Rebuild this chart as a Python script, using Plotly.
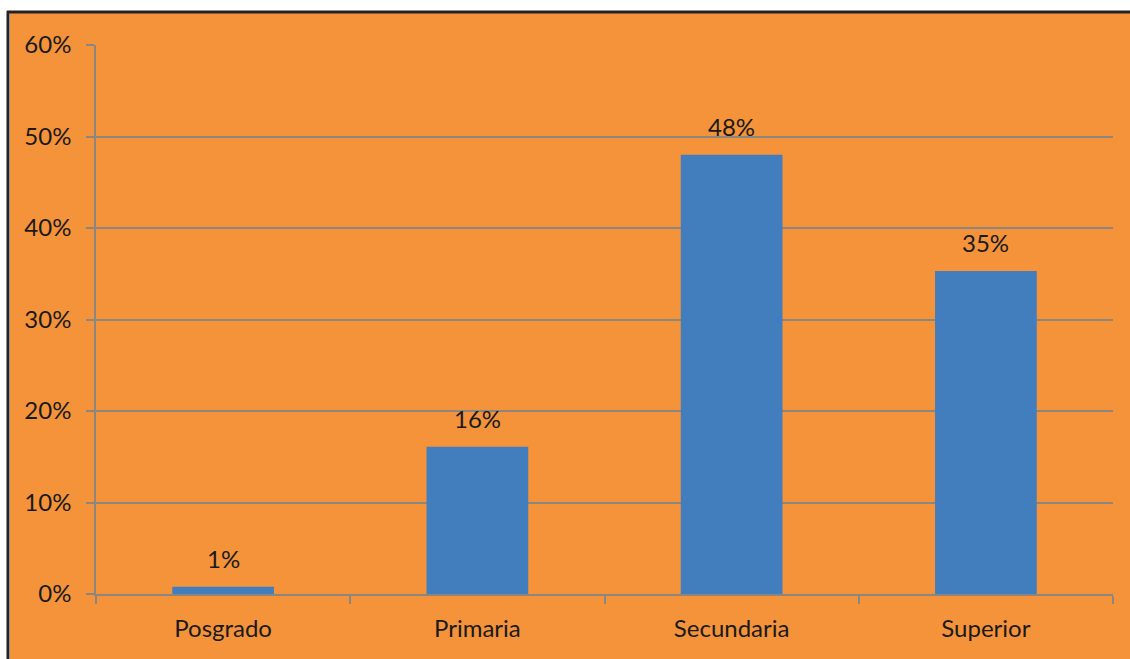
import plotly.graph_objects as go

categories = ["Posgrado", "Primaria", "Secundaria", "Superior"]
values = [0.008, 0.161, 0.480, 0.353]
labels = ["1%", "16%", "48%", "35%"]
y_ticks = [0, 0.1, 0.2, 0.3, 0.4, 0.5, 0.6]
y_tick_text = ["0%", "10%", "20%", "30%", "40%", "50%", "60%"]

ORANGE = "#F5933A"
BLUE = "#427DBD"
GRID = "#8C8680"
TXT = "#1A1A1A"
FONT = "Lato"
FS = 24

fig = go.Figure()
fig.add_trace(go.Bar(
    x=categories, y=values, marker=dict(color=BLUE, line=dict(width=0)),
    width=0.4, hoverinfo="skip",
))

for c, v, t in zip(categories, values, labels):
    fig.add_annotation(x=c, y=v, text=t, showarrow=False, yanchor="bottom",
                       yshift=12, font=dict(family=FONT, size=FS, color=TXT))

W, H = 1130, 659
fig.update_layout(
    width=W, height=H,
    margin=dict(l=96, r=17, t=45, b=65),
    paper_bgcolor="white",
    plot_bgcolor=ORANGE,
    showlegend=False,
    bargap=0.6,
    font=dict(family=FONT, size=FS, color=TXT),
    xaxis=dict(
        showgrid=False, showline=True, linecolor=GRID, linewidth=1.5,
        ticks="outside", tickson="boundaries", ticklen=8, tickcolor=GRID, tickwidth=1.5,
        tickfont=dict(family=FONT, size=FS, color=TXT),
        ticklabelstandoff=12,
    ),
    yaxis=dict(
        range=[0, 0.6], tickvals=y_ticks, ticktext=y_tick_text,
        showgrid=True, gridcolor=GRID, gridwidth=1.5,
        showline=True, linecolor=GRID, linewidth=1.5,
        ticks="outside", ticklen=8, tickcolor=GRID, tickwidth=1.5,
        zeroline=False, tickfont=dict(family=FONT, size=FS, color=TXT),
        ticklabelstandoff=10,
    ),
)

# background panel with dark border (top and left)
fig.add_shape(type="rect", xref="paper", yref="paper",
              x0=(10-96)/1017, x1=(1130-96)/1017, y0=-65/549, y1=(594-13)/549,
              fillcolor=ORANGE, line=dict(width=0), layer="below")
fig.add_shape(type="line", xref="paper", yref="paper",
              x0=(7-96)/1017, x1=(1130-96)/1017, y0=(594-12)/549, y1=(594-12)/549,
              line=dict(color="#222222", width=3))
fig.add_shape(type="line", xref="paper", yref="paper",
              x0=(8-96)/1017, x1=(8-96)/1017, y0=-65/549, y1=(594-11)/549,
              line=dict(color="#222222", width=3))

fig.write_html("out.html")
